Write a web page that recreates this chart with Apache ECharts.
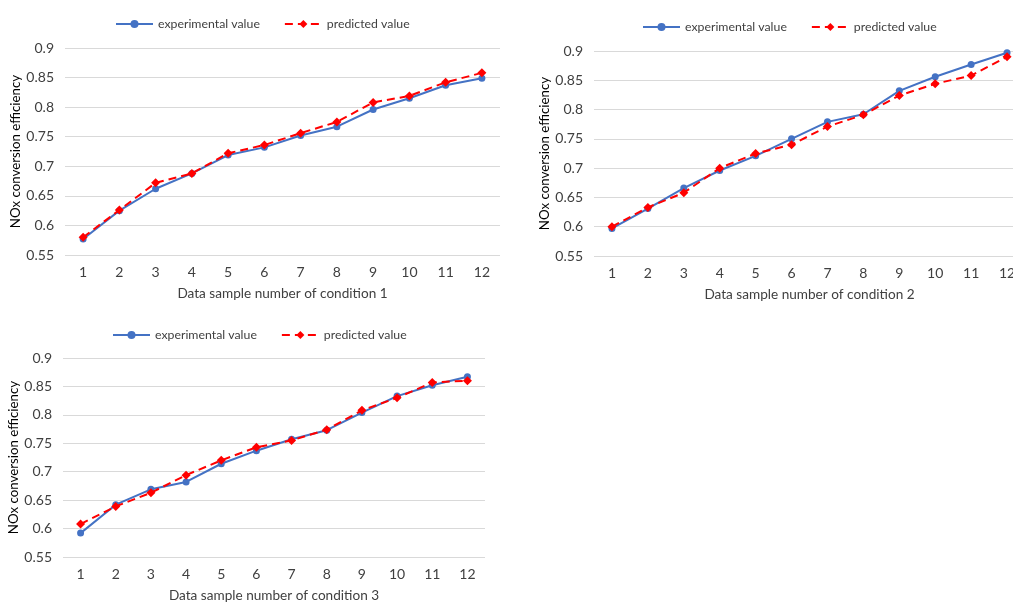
<!DOCTYPE html>
<html>
<head>
<meta charset="utf-8">
<script src="https://cdn.jsdelivr.net/npm/echarts@6/dist/echarts.min.js"></script>
<style>
  html, body { margin: 0; padding: 0; background: #fff; }
  #main { width: 1013px; height: 603px; }
</style>
</head>
<body>
<div id="main"></div>
<script>
const samples = ['1', '2', '3', '4', '5', '6', '7', '8', '9', '10', '11', '12'];

const exp1 = [0.577, 0.625, 0.662, 0.688, 0.719, 0.732, 0.752, 0.767, 0.796, 0.815, 0.837, 0.849];
const pred1 = [0.580, 0.626, 0.672, 0.688, 0.722, 0.736, 0.756, 0.775, 0.808, 0.819, 0.842, 0.858];

const exp2 = [0.597, 0.631, 0.666, 0.696, 0.721, 0.750, 0.779, 0.792, 0.832, 0.856, 0.877, 0.897];
const pred2 = [0.600, 0.633, 0.658, 0.700, 0.725, 0.740, 0.771, 0.791, 0.824, 0.844, 0.858, 0.890];

const exp3 = [0.592, 0.642, 0.669, 0.682, 0.714, 0.737, 0.757, 0.773, 0.804, 0.833, 0.852, 0.867];
const pred3 = [0.608, 0.639, 0.663, 0.694, 0.720, 0.743, 0.755, 0.774, 0.808, 0.830, 0.857, 0.860];

const xNames = ['Data sample number of condition 1', 'Data sample number of condition 2', 'Data sample number of condition 3'];
const yName = 'NOx conversion efficiency';
const seriesNames = ['experimental value', 'predicted value'];

const font = 'Lato, "Open Sans", sans-serif';
const textColor = '#404040';

const chart = echarts.init(document.getElementById('main'));

// chart 2 runs a bit past the right edge, like in the source image
const grids = [
  { left: 65, top: 48, width: 435, height: 207 },
  { left: 594, top: 51, width: 431, height: 205 },
  { left: 63, top: 358, width: 422, height: 199 }
].map(g => Object.assign(g, { outerBoundsMode: 'none', containLabel: false }));

const legendPos = [
  { left: 110, top: 13 },
  { left: 637, top: 16 },
  { left: 107, top: 324 }
];

const xAxes = grids.map((g, i) => ({
  type: 'category',
  gridIndex: i,
  data: samples,
  boundaryGap: true,
  axisLine: { show: false },
  axisTick: { show: false },
  axisLabel: { color: textColor, fontFamily: font, fontSize: 14, margin: 10 },
  name: xNames[i],
  nameLocation: 'middle',
  nameGap: 32,
  nameTextStyle: { color: textColor, fontFamily: font, fontSize: 13.6 }
}));

const yAxes = grids.map((g, i) => ({
  type: 'value',
  gridIndex: i,
  min: 0.55,
  max: 0.9,
  interval: 0.05,
  axisLine: { show: false },
  axisTick: { show: false },
  splitLine: { lineStyle: { color: '#d9d9d9', width: 1 } },
  axisLabel: { color: textColor, fontFamily: font, fontSize: 14, margin: 11 },
  name: yName,
  nameLocation: 'middle',
  nameGap: 43,
  nameTextStyle: { color: '#000', fontFamily: font, fontSize: 13.3 }
}));

const expData = [exp1, exp2, exp3];
const predData = [pred1, pred2, pred3];

const series = [];
for (let i = 0; i < 3; i++) {
  series.push({
    name: seriesNames[0],
    type: 'line',
    xAxisIndex: i,
    yAxisIndex: i,
    data: expData[i],
    symbol: 'circle',
    symbolSize: 7,
    itemStyle: { color: '#4472C4' },
    lineStyle: { color: '#4472C4', width: 2 },
    z: 2
  });
  series.push({
    name: seriesNames[1],
    type: 'line',
    xAxisIndex: i,
    yAxisIndex: i,
    data: predData[i],
    symbol: 'diamond',
    symbolSize: 9,
    itemStyle: { color: '#FF0000' },
    lineStyle: { color: '#FF0000', width: 2, type: [8, 5] },
    z: 3
  });
}

const legends = legendPos.map(p => ({
  left: p.left,
  top: p.top,
  data: seriesNames,
  itemWidth: 37,
  itemHeight: 10,
  itemGap: 24,
  textStyle: { color: textColor, fontFamily: font, fontSize: 12.3 }
}));

chart.setOption({
  animation: false,
  backgroundColor: '#fff',
  grid: grids,
  xAxis: xAxes,
  yAxis: yAxes,
  legend: legends,
  series: series
});
</script>
</body>
</html>
